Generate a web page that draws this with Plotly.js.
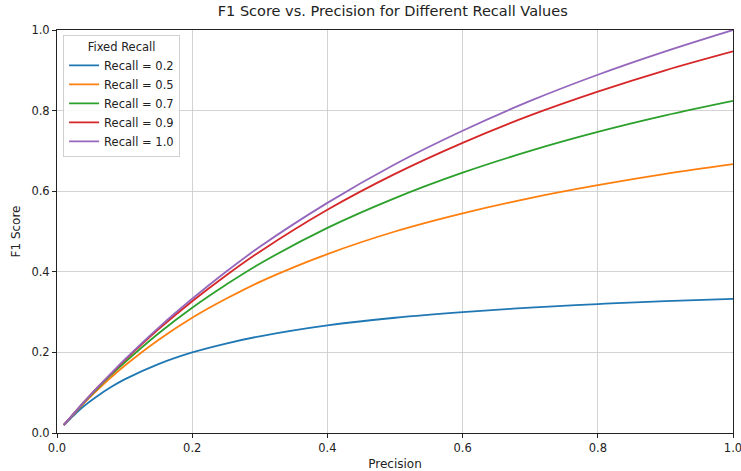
<!DOCTYPE html>
<html>
<head>
<meta charset="utf-8">
<script src="https://cdn.plot.ly/plotly-3.0.1.min.js"></script>
<style>
html,body{margin:0;padding:0;background:#fff;}
#chart{width:741px;height:471px;}
</style>
</head>
<body>
<div id="chart"></div>
<script>
// Precision values sampled along the x axis
const precision = [0.01, 0.02, 0.04, 0.06, 0.08, 0.1, 0.15, 0.2, 0.25, 0.3, 0.4, 0.5, 0.6, 0.7, 0.8, 0.9, 1.0];
// F1 values read for each fixed recall
const f1Recall02 = [0.019, 0.036, 0.067, 0.092, 0.114, 0.133, 0.171, 0.200, 0.222, 0.240, 0.267, 0.286, 0.300, 0.311, 0.320, 0.327, 0.333];
const f1Recall05 = [0.020, 0.038, 0.074, 0.107, 0.138, 0.167, 0.231, 0.286, 0.333, 0.375, 0.444, 0.500, 0.545, 0.583, 0.615, 0.643, 0.667];
const f1Recall07 = [0.020, 0.039, 0.076, 0.111, 0.144, 0.175, 0.247, 0.311, 0.368, 0.420, 0.509, 0.583, 0.646, 0.700, 0.747, 0.788, 0.824];
const f1Recall09 = [0.020, 0.039, 0.077, 0.113, 0.147, 0.180, 0.257, 0.327, 0.391, 0.450, 0.554, 0.643, 0.720, 0.788, 0.847, 0.900, 0.947];
const f1Recall10 = [0.020, 0.039, 0.077, 0.113, 0.148, 0.182, 0.261, 0.333, 0.400, 0.462, 0.571, 0.667, 0.750, 0.824, 0.889, 0.947, 1.000];
const seriesNames = ["Recall = 0.2", "Recall = 0.5", "Recall = 0.7", "Recall = 0.9", "Recall = 1.0"];
const seriesColors = ["#1f77b4", "#ff7f0e", "#2ca02c", "#d62728", "#9467bd"];
const seriesValues = [f1Recall02, f1Recall05, f1Recall07, f1Recall09, f1Recall10];
const tickVals = [0, 0.2, 0.4, 0.6, 0.8, 1.0];
const tickText = ["0.0", "0.2", "0.4", "0.6", "0.8", "1.0"];

const traces = seriesValues.map((vals, i) => ({
  x: precision,
  y: vals,
  type: "scatter",
  mode: "lines",
  name: seriesNames[i],
  line: {color: seriesColors[i], width: 1.8, shape: "spline", smoothing: 1.0}
}));

const baseFam = "DejaVu Sans, sans-serif";
const axisCommon = {
  range: [0, 1],
  tickvals: tickVals,
  ticktext: tickText,
  showgrid: true,
  gridcolor: "#c8c8c8",
  gridwidth: 0.8,
  zeroline: false,
  showline: true,
  linecolor: "#222",
  linewidth: 1,
  mirror: true,
  ticks: "outside",
  ticklen: 4,
  tickcolor: "#222",
  ticklabeloverflow: "allow",
  tickfont: {family: baseFam, size: 11.5, color: "#222"}
};

const layout = {
  width: 741,
  height: 471,
  margin: {l: 57, r: 8, t: 30, b: 38},
  paper_bgcolor: "#fff",
  plot_bgcolor: "#fff",
  font: {family: baseFam, size: 11, color: "#222"},
  title: {text: "F1 Score vs. Precision for Different Recall Values", font: {family: baseFam, size: 14.5, color: "#222"}, x: 0.53, xanchor: "center", y: 0.977, yanchor: "middle"},
  xaxis: Object.assign({}, axisCommon, {title: {text: "Precision", font: {family: baseFam, size: 12}, standoff: 5}}),
  yaxis: Object.assign({}, axisCommon, {title: {text: "F1 Score", font: {family: baseFam, size: 12}, standoff: 8}}),
  showlegend: true,
  legend: {
    x: 0.009, y: 0.988, xanchor: "left", yanchor: "top",
    bgcolor: "rgba(255,255,255,0.85)",
    bordercolor: "#d0d0d0", borderwidth: 1,
    font: {family: baseFam, size: 11.5, color: "#222"},
    title: {text: "Fixed Recall", side: "top center", font: {family: baseFam, size: 11.5, color: "#222"}},
    tracegroupgap: 0,
    itemwidth: 30
  }
};

Plotly.newPlot("chart", traces, layout, {displayModeBar: false, staticPlot: true});
</script>
</body>
</html>
